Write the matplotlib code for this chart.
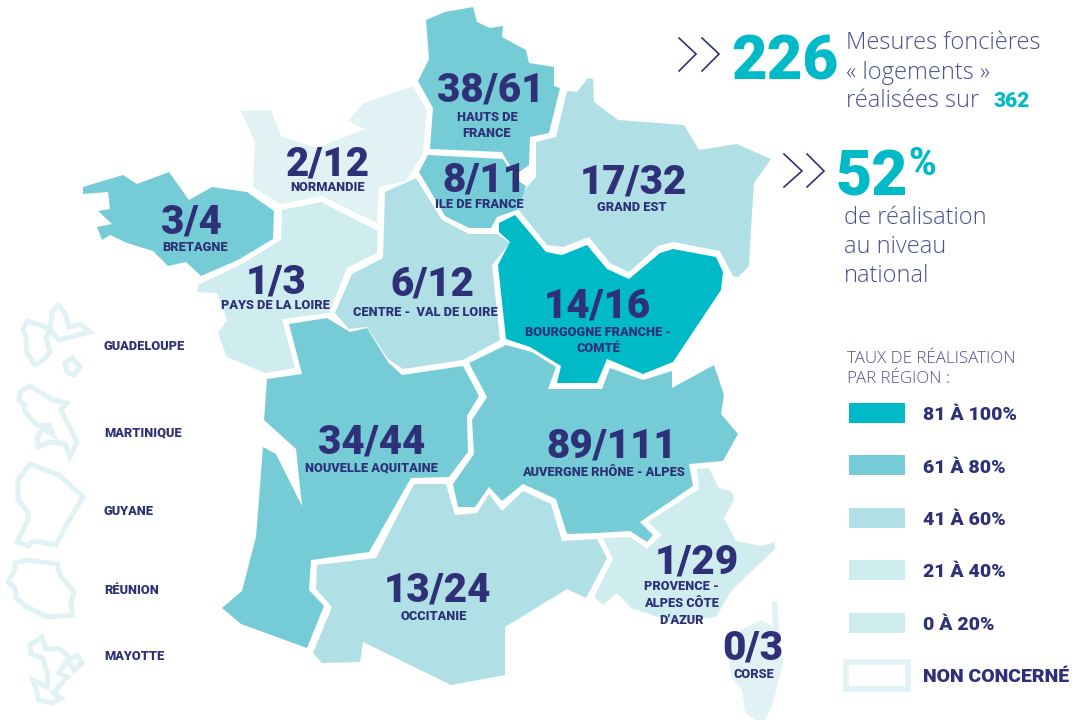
import matplotlib
matplotlib.use("Agg")
from matplotlib import pyplot as plt
from matplotlib.patches import Polygon, Rectangle

NAVY = "#2E3178"
SOFT = "#4C5091"
TEAL = "#00BAC8"
C80 = "#76CCD6"
C60 = "#B0DFE5"
C40 = "#CFECEE"
C20 = "#E0F2F3"
BOLD = "Roboto"
THIN = "Open Sans"

# region values
names = ["HAUTS DE\nFRANCE", "NORMANDIE", "BRETAGNE", "ILE DE FRANCE", "GRAND EST", "PAYS DE LA LOIRE",
         "CENTRE -  VAL DE LOIRE", "BOURGOGNE FRANCHE -\nCOMTÉ", "NOUVELLE AQUITAINE",
         "AUVERGNE RHÔNE - ALPES", "OCCITANIE", "PROVENCE -\nALPES CÔTE\nD’AZUR", "CORSE"]
done = [38, 2, 3, 8, 17, 1, 6, 14, 34, 89, 13, 1, 0]
total = [61, 12, 4, 11, 32, 3, 12, 16, 44, 111, 24, 29, 3]
fills = [C80, C20, C80, C80, C60, C40, C60, TEAL, C80, C80, C60, C40, C20]
# where the fraction goes (centre x, baseline y) and the name under it
value_pos = [(491, 102), (328, 175), (191, 234), (484, 191), (633, 194), (276, 293), (432, 296),
             (597, 318), (372, 454), (612, 457), (437, 602), (697, 573), (753, 660)]
name_pos = [(487, 121), (328, 191), (195, 251), (479, 208), (632, 211), (275, 309), (425, 316),
            (598, 336), (371, 471), (603, 476), (434, 620), (681, 590), (754, 678)]

hauts = [(426,20),(445,12),(473,7),(477,22),(490,28),(503,26),(502,37),(526,50),(529,63),(554,67),(554,86),(560,88),(549,133),(530,137),(529,165),(515,175),(502,152),(430,149),(433,108),(418,81),(429,59)]
normandie = [(241,111),(271,110),(281,136),(317,148),(365,129),(348,121),(364,103),(413,86),(427,110),(423,153),(406,181),(379,187),(377,223),(322,196),(280,204),(253,187),(255,142)]
bretagne = [(83,187),(123,175),(137,184),(169,172),(189,200),(212,187),(247,192),(274,211),(273,239),(238,260),(201,276),(186,262),(168,266),(153,251),(127,243),(110,235),(102,240),(97,227),(112,224),(98,211),(110,209),(108,192),(83,194)]
idf = [(428,155),(503,159),(517,180),(526,186),(520,209),(497,217),(491,228),(469,228),(445,216),(419,172)]
grand_est = [(567,91),(577,92),(588,78),(593,79),(594,102),(618,120),(684,125),(699,150),(737,144),(771,159),(754,183),(752,213),(749,266),(738,277),(733,276),(720,251),(673,242),(658,246),(629,272),(610,263),(589,237),(563,247),(547,245),(517,208),(527,187),(536,177),(536,142),(556,137)]
loire = [(282,210),(321,202),(378,231),(377,253),(347,268),(329,313),(282,319),(295,368),(265,373),(227,357),(218,333),(227,320),(217,293),(197,292),(198,285),(240,265),(281,240)]
centre = [(385,192),(416,178),(442,220),(469,234),(497,234),(510,243),(492,265),(500,340),(463,360),(403,369),(388,359),(367,327),(349,329),(335,313),(352,274),(383,258)]
bourgogne = [(499,223),(515,215),(546,252),(562,255),(587,245),(607,269),(629,279),(660,253),(673,249),(716,257),(723,272),(721,290),(673,362),(643,374),(607,359),(597,383),(557,383),(561,366),(530,347),(506,339),(498,265),(510,242),(499,232)]
aquitaine = [(289,324),(327,318),(350,332),(367,328),(388,362),(402,375),(463,366),(479,396),(467,416),(468,452),(449,477),(411,478),(369,552),(311,560),(309,590),(324,606),(307,648),(241,624),(222,608),(242,591),(256,537),(263,447),(276,454),(302,506),(296,449),(264,420),(267,379),(302,374)]
auvergne = [(469,363),(506,345),(532,352),(556,367),(548,389),(602,389),(610,368),(643,380),(672,371),(672,388),(714,365),(724,395),(721,414),(738,434),(723,461),(689,464),(693,486),(640,522),(653,535),(647,542),(630,531),(597,533),(567,534),(556,499),(523,484),(502,501),(489,487),(475,507),(458,507),(453,484),(474,454),(472,420),(487,397)]
occitanie = [(414,484),(446,484),(455,515),(477,513),(489,494),(502,511),(523,491),(551,504),(562,541),(597,539),(607,558),(586,598),(567,589),(505,627),(505,675),(451,685),(363,642),(360,662),(322,663),(313,653),(332,607),(316,589),(317,565),(376,558)]
provence = [(697,469),(709,468),(718,487),(732,492),(734,500),(724,518),(736,541),(761,546),(775,542),(775,549),(731,591),(716,617),(673,622),(631,608),(617,593),(603,605),(594,597),(613,559),(603,538),(630,537),(647,549),(662,535),(648,522),(699,489)]
corse = [(772,601),(777,602),(779,627),(783,663),(773,703),(765,720),(755,720),(745,712),(742,690),(732,678),(727,650),(740,630),(761,620),(773,627)]
outlines = [hauts, normandie, bretagne, idf, grand_est, loire, centre, bourgogne, aquitaine, auvergne, occitanie, provence, corse]

# overseas territories, outline only
overseas = ["GUADELOUPE", "MARTINIQUE", "GUYANE", "RÉUNION", "MAYOTTE"]
overseas_y = [350, 436, 515, 594, 660]
guad_a = [(23,329),(27,321),(43,326),(50,330),(46,338),(50,352),(43,360),(35,365),(27,353),(26,337)]
guad_b = [(50,330),(52,312),(58,305),(65,313),(69,327),(80,324),(90,332),(59,340)]
guad_c = [(65,363),(72,358),(80,367),(74,375),(67,372)]
marti = [(20,392),(30,386),(53,400),(67,403),(61,410),(77,442),(70,457),(65,444),(50,442),(38,447),(37,438),(43,428),(53,435),(49,425),(38,426),(25,412),(25,405),(19,400)]
guyane = [(30,464),(59,475),(83,497),(68,522),(56,545),(33,541),(28,546),(17,542),(28,520),(28,512),(18,500),(18,480)]
reunion = [(15,563),(28,560),(57,564),(60,575),(74,592),(71,602),(72,615),(48,617),(27,607),(16,598),(15,588),(8,582),(14,572)]
mayotte = [(30,645),(42,637),(46,649),(60,649),(69,657),(59,673),(67,677),(53,693),(61,698),(52,703),(39,700),(33,680),(47,687),(48,677),(43,658),(31,654)]
mayotte_b = [(68,660),(77,655),(82,663),(74,670)]
overseas_lines = [guad_a, guad_b, guad_c, marti, guyane, reunion, mayotte, mayotte_b]

# legend
legend_labels = ["81 À 100%", "61 À 80%", "41 À 60%", "21 À 40%", "0 À 20%"]
legend_colors = [TEAL, C80, C60, C40, C40]
legend_top = [403, 455, 508, 560, 613]
legend_base = [420, 473, 525, 577, 630]

# chevrons
chevrons = [[(679,38),(696,54),(679,71)], [(702,38),(719,54),(702,71)],
            [(784,154),(802,171),(784,187)], [(807,154),(824,171),(807,187)]]

fig = plt.figure(figsize=(10.78, 7.2), dpi=100)
ax = fig.add_axes([0, 0, 1, 1])
ax.set_xlim(0, 1078)
ax.set_ylim(720, 0)
ax.axis("off")

for pts, col in zip(outlines, fills):
    ax.add_patch(Polygon(pts, closed=True, facecolor=col, edgecolor="none"))

for i in range(len(names)):
    ax.text(value_pos[i][0], value_pos[i][1], f"{done[i]}/{total[i]}", color=NAVY, fontsize=29,
            family=BOLD, weight=900, ha="center", va="baseline")
    lines = names[i].split("\n")
    for j in range(len(lines)):
        step = 16 if len(lines) < 3 else 17
        ax.text(name_pos[i][0], name_pos[i][1] + j * step, lines[j], color=NAVY, fontsize=9.2,
                family=BOLD, weight=900, ha="center", va="baseline")

for pts in overseas_lines:
    ax.add_patch(Polygon(pts, closed=True, facecolor="none", edgecolor=C20, linewidth=3.6, joinstyle="miter"))
for i in range(len(overseas)):
    ax.text(104, overseas_y[i], overseas[i], color=NAVY, fontsize=9.2, family=BOLD, weight=900, va="baseline")

for pts in chevrons:
    xs, ys = zip(*pts)
    ax.plot(xs, ys, color=NAVY, lw=1.2, solid_joinstyle="miter")

ax.text(731, 79, "226", color=TEAL, fontsize=44.5, family=BOLD, weight=900, va="baseline")
ax.text(846, 49, "Mesures foncières", color=SOFT, fontsize=17, family=THIN, weight="light", va="baseline")
ax.text(846, 79, "« logements »", color=SOFT, fontsize=17, family=THIN, weight="light", va="baseline")
ax.text(846, 107, "réalisées sur", color=SOFT, fontsize=17, family=THIN, weight="light", va="baseline")
ax.text(993, 107, "362", color=TEAL, fontsize=15, family=BOLD, weight=900, va="baseline")

ax.text(836, 195, "52", color=TEAL, fontsize=45, family=BOLD, weight=900, va="baseline")
ax.text(908, 175, "%", color=TEAL, fontsize=27, family=BOLD, weight=900, va="baseline")
ax.text(844, 224, "de réalisation", color=SOFT, fontsize=17, family=THIN, weight="light", va="baseline")
ax.text(844, 253, "au niveau", color=SOFT, fontsize=17, family=THIN, weight="light", va="baseline")
ax.text(844, 282, "national", color=SOFT, fontsize=17, family=THIN, weight="light", va="baseline")

ax.text(847, 363, "TAUX DE RÉALISATION", color=SOFT, fontsize=12.2, family=THIN, weight="light", va="baseline")
ax.text(847, 383, "PAR RÉGION :", color=SOFT, fontsize=12.2, family=THIN, weight="light", va="baseline")

for i in range(len(legend_labels)):
    ax.add_patch(Rectangle((849, legend_top[i]), 56, 20, facecolor=legend_colors[i], edgecolor="none"))
    ax.text(923, legend_base[i], legend_labels[i], color=NAVY, fontsize=14, family=BOLD, weight=900, va="baseline")
ax.add_patch(Rectangle((846, 661.5), 62, 27, facecolor="white", edgecolor=C20, linewidth=4, joinstyle="miter"))
ax.text(923, 682, "NON CONCERNÉ", color=NAVY, fontsize=14, family=BOLD, weight=900, va="baseline")

plt.savefig("out.png", dpi=100)
